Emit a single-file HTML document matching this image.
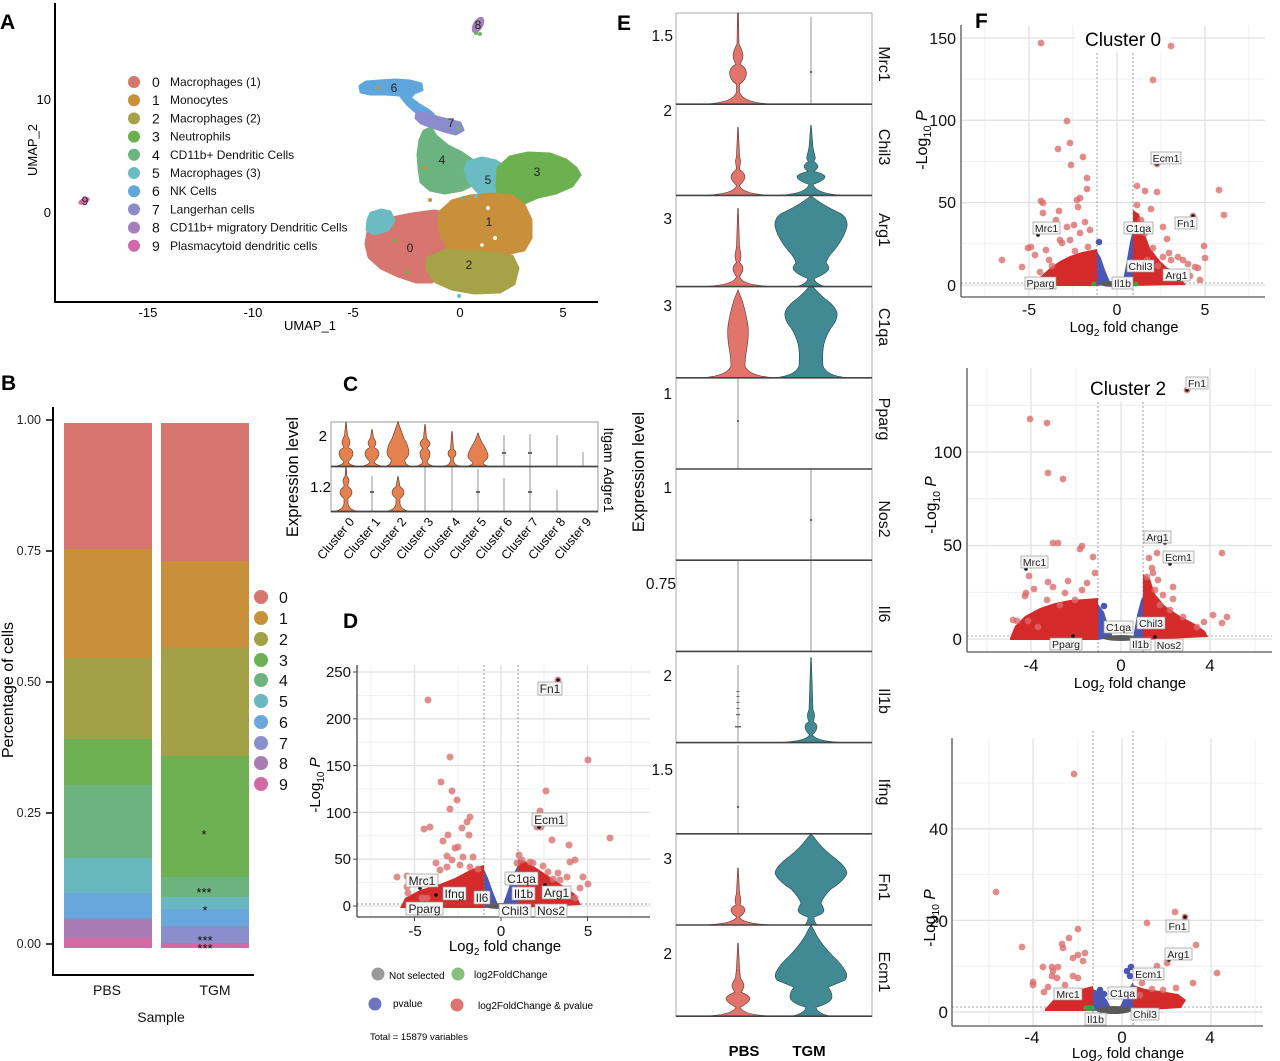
<!DOCTYPE html>
<html><head><meta charset="utf-8">
<style>
html,body{margin:0;padding:0;background:#fff;}
svg{display:block;font-family:"Liberation Sans",Arial,sans-serif;}
</style></head><body>
<svg width="1280" height="1061" viewBox="0 0 1280 1061" xmlns="http://www.w3.org/2000/svg">
<rect width="1280" height="1061" fill="#fff"/>

<!-- ================= PANEL A ================= -->
<text x="0" y="29" font-size="21" font-weight="bold">A</text>
<g stroke-linejoin="round" stroke-width="3">
<polygon points="360,86 366,82 380,81 395,80 410,81 421,84 422,90 414,93 410,98 418,104 428,110 433,114 426,116 416,112 407,104 400,95 385,94 370,94 361,92" fill="#5fa6dd" stroke="#5fa6dd"/>
<polygon points="417,113 428,114 440,118 452,121 460,123 463,130 456,134 444,131 432,127 421,123 416,118" fill="#8c8bcb" stroke="#8c8bcb"/>
<polygon points="420,140 424,131 431,128 436,136 448,146 462,153 472,160 478,170 474,184 462,190 445,193 430,190 421,182 419,168 418,155" fill="#6cb47f" stroke="#6cb47f"/>
<polygon points="468,162 482,158 496,161 506,168 507,180 500,192 494,200 484,197 476,190 468,180 465,170" fill="#6abcc2" stroke="#6abcc2"/>
<polygon points="498,168 510,157 528,153 550,154 566,160 576,168 580,175 572,186 556,193 538,197 522,204 506,210 499,200 497,185" fill="#6cb04f" stroke="#6cb04f"/>
<polygon points="368,232 374,222 392,218 412,214 434,211 446,213 449,230 447,250 442,266 432,282 416,282 398,276 381,268 369,257 366,244" fill="#d7766e" stroke="#d7766e"/>
<polygon points="440,212 452,201 470,196 492,194 512,196 524,205 531,220 531,238 524,250 505,254 485,254 465,255 450,250 442,238 439,225" fill="#c8903a" stroke="#c8903a"/>
<polygon points="428,258 446,250 466,252 490,253 512,256 518,268 514,284 500,292 474,293 452,289 436,282 427,270" fill="#a6a247" stroke="#a6a247"/>
<polygon points="368,220 371,213 381,210 390,212 394,220 388,230 374,234 367,230" fill="#6abcc2" stroke="#6abcc2"/>
</g>
<g>
<circle cx="488" cy="208" r="2" fill="#fff"/><circle cx="495" cy="238" r="2" fill="#fff"/><circle cx="482" cy="245" r="1.8" fill="#fff"/>
<circle cx="476" cy="196" r="2" fill="#6abcc2"/><circle cx="463" cy="198" r="2" fill="#6cb47f"/><circle cx="430" cy="200" r="2" fill="#c8903a"/>
<circle cx="425" cy="168" r="2" fill="#c8903a"/><circle cx="395" cy="240" r="2" fill="#6cb04f"/><circle cx="407" cy="272" r="2" fill="#6cb04f"/>
<circle cx="459" cy="296" r="2" fill="#6abcc2"/><circle cx="378" cy="88" r="2" fill="#a6a247"/><circle cx="458" cy="128" r="2" fill="#6cb47f"/>
</g>
<ellipse cx="478" cy="25" rx="5" ry="9" transform="rotate(30 478 25)" fill="#a67fbd"/>
<circle cx="476" cy="33" r="2" fill="#6cb04f"/><circle cx="480" cy="34" r="2" fill="#6cb47f"/>
<ellipse cx="84" cy="201" rx="6" ry="3" transform="rotate(-25 84 201)" fill="#d368a9"/>
<g font-size="12" fill="#222" text-anchor="middle">
<text x="478" y="29">8</text><text x="85" y="205">9</text><text x="394" y="92">6</text><text x="451" y="127">7</text>
<text x="442" y="164">4</text><text x="488" y="184">5</text><text x="537" y="176">3</text><text x="489" y="226">1</text>
<text x="410" y="252">0</text><text x="469" y="269">2</text>
</g>
<line x1="55" y1="3" x2="55" y2="303" stroke="#000" stroke-width="2"/>
<line x1="54" y1="302" x2="598" y2="302" stroke="#000" stroke-width="2"/>
<g font-size="13" text-anchor="end"><text x="51" y="104">10</text><text x="51" y="217">0</text></g>
<g font-size="13" text-anchor="middle">
<text x="148" y="317">-15</text><text x="253" y="317">-10</text><text x="353" y="317">-5</text><text x="460" y="317">0</text><text x="563" y="317">5</text>
<text x="310" y="330">UMAP_1</text>
<text transform="translate(37,150) rotate(-90)">UMAP_2</text>
</g>
<g>
<circle cx="134" cy="82" r="6" fill="#d7766e"/><circle cx="134" cy="100.2" r="6" fill="#c8903a"/>
<circle cx="134" cy="118.4" r="6" fill="#a6a247"/><circle cx="134" cy="136.6" r="6" fill="#6cb04f"/>
<circle cx="134" cy="154.8" r="6" fill="#6cb47f"/><circle cx="134" cy="173" r="6" fill="#6abcc2"/>
<circle cx="134" cy="191.2" r="6" fill="#5fa6dd"/><circle cx="134" cy="209.4" r="6" fill="#8c8bcb"/>
<circle cx="134" cy="227.6" r="6" fill="#a67fbd"/><circle cx="134" cy="245.8" r="6" fill="#d368a9"/>
</g>
<g font-size="14" fill="#111">
<text x="152" y="87">0</text><text x="152" y="105.2">1</text><text x="152" y="123.4">2</text><text x="152" y="141.6">3</text><text x="152" y="159.8">4</text>
<text x="152" y="178">5</text><text x="152" y="196.2">6</text><text x="152" y="214.4">7</text><text x="152" y="232.6">8</text><text x="152" y="250.8">9</text>
</g>
<g font-size="12" fill="#111">
<text x="170" y="86">Macrophages (1)</text><text x="170" y="104.2">Monocytes</text><text x="170" y="122.4">Macrophages (2)</text>
<text x="170" y="140.6">Neutrophils</text><text x="170" y="158.8">CD11b+ Dendritic Cells</text><text x="170" y="177">Macrophages (3)</text>
<text x="170" y="195.2">NK Cells</text><text x="170" y="213.4">Langerhan cells</text><text x="170" y="231.6">CD11b+ migratory Dendritic Cells</text>
<text x="170" y="249.8">Plasmacytoid dendritic cells</text>
</g>

<!-- ================= PANEL B ================= -->
<text x="1" y="390" font-size="21" font-weight="bold">B</text>
<g>
<rect x="64" y="423" width="88" height="126" fill="#d7766e"/>
<rect x="64" y="549" width="88" height="109" fill="#c8903a"/>
<rect x="64" y="658" width="88" height="81" fill="#a3a146"/>
<rect x="64" y="739" width="88" height="46" fill="#6db153"/>
<rect x="64" y="785" width="88" height="73" fill="#6db37f"/>
<rect x="64" y="858" width="88" height="35" fill="#6ab8bf"/>
<rect x="64" y="893" width="88" height="25" fill="#69a8dc"/>
<rect x="64" y="918" width="88" height="2" fill="#8a8fcb"/>
<rect x="64" y="920" width="88" height="18" fill="#a97bb4"/>
<rect x="64" y="938" width="88" height="10" fill="#d36aa4"/>

<rect x="161" y="423" width="88" height="138" fill="#d7766e"/>
<rect x="161" y="561" width="88" height="87" fill="#c8903a"/>
<rect x="161" y="648" width="88" height="108" fill="#a3a146"/>
<rect x="161" y="756" width="88" height="121" fill="#6db153"/>
<rect x="161" y="877" width="88" height="20" fill="#6db37f"/>
<rect x="161" y="897" width="88" height="12" fill="#6ab8bf"/>
<rect x="161" y="909" width="88" height="17" fill="#69a8dc"/>
<rect x="161" y="926" width="88" height="17" fill="#8a8fcb"/>
<rect x="161" y="943" width="88" height="1" fill="#a97bb4"/>
<rect x="161" y="944" width="88" height="4" fill="#d36aa4"/>
</g>
<g font-size="13" text-anchor="middle" fill="#111">
<text x="204" y="839">*</text><text x="204" y="897">***</text><text x="205" y="915">*</text><text x="205" y="945">***</text><text x="205" y="953">***</text>
</g>
<line x1="53" y1="407" x2="53" y2="976" stroke="#000" stroke-width="2"/>
<line x1="52" y1="975" x2="254" y2="975" stroke="#000" stroke-width="2"/>
<g stroke="#000" stroke-width="1.5"><line x1="46" y1="420" x2="52" y2="420"/><line x1="46" y1="551" x2="52" y2="551"/><line x1="46" y1="682" x2="52" y2="682"/><line x1="46" y1="813" x2="52" y2="813"/><line x1="46" y1="944" x2="52" y2="944"/></g>
<g font-size="12.5" text-anchor="end" fill="#222">
<text x="41" y="424">1.00</text><text x="41" y="555">0.75</text><text x="41" y="686">0.50</text><text x="41" y="817">0.25</text><text x="41" y="948">0.00</text>
</g>
<g font-size="14" text-anchor="middle" fill="#111">
<text x="107" y="995">PBS</text><text x="215" y="995">TGM</text><text x="161" y="1022">Sample</text>
</g>
<text transform="translate(13,690) rotate(-90)" font-size="16" text-anchor="middle">Percentage of cells</text>
<g>
<circle cx="261" cy="597" r="7" fill="#d7766e"/><circle cx="261" cy="618" r="7" fill="#c8903a"/>
<circle cx="261" cy="639" r="7" fill="#a3a146"/><circle cx="261" cy="660" r="7" fill="#6db153"/>
<circle cx="261" cy="680" r="7" fill="#6db37f"/><circle cx="261" cy="701" r="7" fill="#6ab8bf"/>
<circle cx="261" cy="722" r="7" fill="#69a8dc"/><circle cx="261" cy="743" r="7" fill="#8a8fcb"/>
<circle cx="261" cy="763" r="7" fill="#a97bb4"/><circle cx="261" cy="784" r="7" fill="#d36aa4"/>
</g>
<g font-size="16" fill="#111">
<text x="279" y="603">0</text><text x="279" y="624">1</text><text x="279" y="645">2</text><text x="279" y="666">3</text><text x="279" y="686">4</text>
<text x="279" y="707">5</text><text x="279" y="728">6</text><text x="279" y="749">7</text><text x="279" y="769">8</text><text x="279" y="790">9</text>
</g>

<!-- ================= PANEL C ================= -->
<text x="343" y="391" font-size="21" font-weight="bold">C</text>
<rect x="331" y="422" width="267" height="90" fill="none" stroke="#999" stroke-width="1"/>
<g fill="#e5814f" stroke="#5a3322" stroke-width="0.6">
<path transform="translate(346,466.5)" d="M13,0 Q3,-1 2,-5 Q7,-9 7,-13 Q7,-17 2,-19 Q4,-22 4,-25 Q3,-28 1.5,-31 L0.3,-44 L-0.3,-44 L-1.5,-31 Q-3,-28 -4,-25 Q-4,-22 -2,-19 Q-7,-17 -7,-13 Q-7,-9 -2,-5 Q-3,-1 -13,0 Z"/>
<path transform="translate(372,466.5)" d="M13,0 Q3,-1 2,-5 Q7,-9 7,-13 Q7,-17 2,-19 Q4,-22 4,-24 Q3,-27 1.5,-29 L0.3,-37 L-0.3,-37 L-1.5,-29 Q-3,-27 -4,-24 Q-4,-22 -2,-19 Q-7,-17 -7,-13 Q-7,-9 -2,-5 Q-3,-1 -13,0 Z"/>
<path transform="translate(398,466.5)" d="M13,0 Q6,-2 7,-7 Q11,-10 11,-15 Q10,-22 6,-28 Q3,-36 0,-45 Q-3,-36 -6,-28 Q-10,-22 -11,-15 Q-11,-10 -7,-7 Q-6,-2 -13,0 Z"/>
<path transform="translate(425,466.5)" d="M11,0 Q3,-1 2,-5 Q5,-9 5,-13 Q5,-16 2,-18 Q5,-21 5,-23 Q4,-26 1.5,-28 L0.3,-42 L-0.3,-42 L-1.5,-28 Q-4,-26 -5,-23 Q-5,-21 -2,-18 Q-5,-16 -5,-13 Q-5,-9 -2,-5 Q-3,-1 -11,0 Z"/>
<path transform="translate(452,466.5)" d="M10,0 Q2,-1 1.5,-6 L1.5,-9 Q4,-10 4,-13 Q4,-16 1.5,-17 L0.3,-35 L-0.3,-35 L-1.5,-17 Q-4,-16 -4,-13 Q-4,-10 -1.5,-9 L-1.5,-6 Q-2,-1 -10,0 Z"/>
<path transform="translate(478,466.5)" d="M13,0 Q5,-1 5,-4 Q11,-8 10,-12 Q8,-18 4,-24 Q1,-30 0,-34 Q-1,-30 -4,-24 Q-8,-18 -10,-12 Q-11,-8 -5,-4 Q-5,-1 -13,0 Z"/>
<path transform="translate(346,511.5)" d="M13,0 Q3,-1 2,-8 L2,-13 Q6,-16 6,-19 Q6,-22 2,-25 L2,-27 Q3,-29 3,-31 Q3,-33 1,-35 L0.3,-44 L-0.3,-44 L-1,-35 Q-3,-33 -3,-31 Q-3,-29 -2,-27 L-2,-25 Q-6,-22 -6,-19 Q-6,-16 -2,-13 L-2,-8 Q-3,-1 -13,0 Z"/>
<path transform="translate(398,511.5)" d="M13,0 Q3,-1 2,-8 L2,-13 Q6,-16 6,-19 Q6,-22 2,-25 L0.3,-35 L-0.3,-35 L-2,-25 Q-6,-22 -6,-19 Q-6,-16 -2,-13 L-2,-8 Q-3,-1 -13,0 Z"/>
</g>
<g stroke="#888" stroke-width="0.9">
<line x1="504" y1="466" x2="504" y2="435"/><line x1="530" y1="466" x2="530" y2="434"/><line x1="557" y1="466" x2="557" y2="435"/><line x1="583" y1="466" x2="583" y2="452"/>
<line x1="372" y1="511" x2="372" y2="476"/><line x1="425" y1="511" x2="425" y2="467"/><line x1="452" y1="511" x2="452" y2="467"/><line x1="478" y1="511" x2="478" y2="469"/>
<line x1="504" y1="511" x2="504" y2="478"/><line x1="530" y1="511" x2="530" y2="467"/><line x1="557" y1="511" x2="557" y2="490"/>
</g>
<g fill="#666"><rect x="502" y="452" width="4" height="2"/><rect x="528" y="452" width="4" height="2"/><rect x="370" y="491" width="4" height="2"/><rect x="476" y="491" width="4" height="2"/><rect x="528" y="491" width="4" height="2"/></g>
<line x1="331" y1="466.5" x2="598" y2="466.5" stroke="#444" stroke-width="1.8"/>
<line x1="331" y1="511.5" x2="598" y2="511.5" stroke="#444" stroke-width="1.8"/>
<g font-size="15" text-anchor="end"><text x="327" y="441">2</text><text x="331" y="492">1.2</text></g>
<g font-size="14"><text transform="translate(604,445) rotate(90)" text-anchor="middle">Itgam</text><text transform="translate(604,490) rotate(90)" text-anchor="middle">Adgre1</text></g>
<text transform="translate(298,477) rotate(-90)" font-size="16.5" text-anchor="middle">Expression level</text>
<g font-size="12.5" text-anchor="end">
<text transform="translate(355,522) rotate(-50)">Cluster 0</text>
<text transform="translate(381,522) rotate(-50)">Cluster 1</text>
<text transform="translate(407,522) rotate(-50)">Cluster 2</text>
<text transform="translate(434,522) rotate(-50)">Cluster 3</text>
<text transform="translate(461,522) rotate(-50)">Cluster 4</text>
<text transform="translate(487,522) rotate(-50)">Cluster 5</text>
<text transform="translate(513,522) rotate(-50)">Cluster 6</text>
<text transform="translate(539,522) rotate(-50)">Cluster 7</text>
<text transform="translate(566,522) rotate(-50)">Cluster 8</text>
<text transform="translate(592,522) rotate(-50)">Cluster 9</text>
</g>

<!-- ================= PANEL D ================= -->
<text x="343" y="628" font-size="21" font-weight="bold">D</text>
<g stroke="#ececec" stroke-width="0.8">
<line x1="357" y1="882.6" x2="650" y2="882.6"/><line x1="357" y1="835.8" x2="650" y2="835.8"/><line x1="357" y1="789" x2="650" y2="789"/><line x1="357" y1="742.2" x2="650" y2="742.2"/><line x1="357" y1="695.4" x2="650" y2="695.4"/>
<line x1="371" y1="665" x2="371" y2="917"/><line x1="458" y1="665" x2="458" y2="917"/><line x1="544" y1="665" x2="544" y2="917"/><line x1="631" y1="665" x2="631" y2="917"/>
</g>
<g stroke="#e2e2e2" stroke-width="1.3">
<line x1="357" y1="906" x2="650" y2="906"/><line x1="357" y1="859.2" x2="650" y2="859.2"/><line x1="357" y1="812.4" x2="650" y2="812.4"/><line x1="357" y1="765.6" x2="650" y2="765.6"/><line x1="357" y1="718.8" x2="650" y2="718.8"/><line x1="357" y1="672" x2="650" y2="672"/>
<line x1="414.5" y1="665" x2="414.5" y2="917"/><line x1="501" y1="665" x2="501" y2="917"/><line x1="587.5" y1="665" x2="587.5" y2="917"/>
</g>
<g stroke="none">
<polygon points="400,908 405,898 420,890 440,884 455,878 470,870 480,866 484,865 484,908" fill="#d42a2a"/>
<polygon points="518,859 525,861 535,867 550,877 565,887 575,894 581,905 518,908" fill="#d42a2a"/>
<polygon points="484,869 488,878 493,892 499,907 484,908" fill="#4c56b3"/>
<polygon points="502,907 508,890 513,875 518,865 518,908" fill="#4c56b3"/>
<ellipse cx="501" cy="906" rx="17" ry="3" fill="#5a5a5a"/>
</g>
<g fill="#d9706e" fill-opacity="0.8">
<circle cx="428" cy="700" r="3.5"/><circle cx="450" cy="757" r="3.5"/><circle cx="441" cy="782" r="3.5"/><circle cx="452" cy="791" r="3.5"/><circle cx="457" cy="800" r="3.5"/><circle cx="450" cy="809" r="3.5"/><circle cx="470" cy="817" r="3.5"/><circle cx="467" cy="822" r="3.5"/><circle cx="462" cy="828" r="3.5"/><circle cx="424" cy="829" r="3.5"/><circle cx="430" cy="827" r="3.5"/><circle cx="448" cy="835" r="3.5"/><circle cx="443" cy="841" r="3.5"/><circle cx="469" cy="835" r="3.5"/><circle cx="455" cy="848" r="3.5"/><circle cx="458" cy="847" r="3.5"/><circle cx="447" cy="856" r="3.5"/><circle cx="463" cy="857" r="3.5"/><circle cx="473" cy="857" r="3.5"/><circle cx="436" cy="863" r="3.5"/><circle cx="397" cy="877" r="3.5"/><circle cx="407" cy="876" r="3.5"/><circle cx="407" cy="887" r="3.5"/><circle cx="408" cy="893" r="3.5"/><circle cx="422" cy="898" r="3.5"/><circle cx="427" cy="898" r="3.5"/><circle cx="478" cy="869" r="3.5"/><circle cx="470" cy="867" r="3.5"/><circle cx="447" cy="867" r="3.5"/><circle cx="452" cy="860" r="3.5"/><circle cx="440" cy="870" r="3.5"/><circle cx="460" cy="865" r="3.5"/>
<circle cx="588" cy="760" r="3.5"/><circle cx="546" cy="791" r="3.5"/><circle cx="540" cy="811" r="3.5"/><circle cx="552" cy="840" r="3.5"/><circle cx="610" cy="838" r="3.5"/><circle cx="569" cy="845" r="3.5"/><circle cx="570" cy="862" r="3.5"/><circle cx="575" cy="860" r="3.5"/><circle cx="519" cy="855" r="3.5"/><circle cx="530" cy="862" r="3.5"/><circle cx="533" cy="863" r="3.5"/><circle cx="543" cy="866" r="3.5"/><circle cx="583" cy="877" r="3.5"/><circle cx="588" cy="884" r="3.5"/><circle cx="580" cy="888" r="3.5"/><circle cx="575" cy="898" r="3.5"/><circle cx="567" cy="877" r="3.5"/><circle cx="553" cy="879" r="3.5"/><circle cx="560" cy="880" r="3.5"/><circle cx="517" cy="863" r="3.5"/><circle cx="522" cy="860" r="3.5"/><circle cx="558" cy="873" r="3.5"/><circle cx="548" cy="872" r="3.5"/><circle cx="558" cy="680" r="3.5"/><circle cx="537" cy="827" r="3.5"/><circle cx="541" cy="827" r="3.5"/>
</g>
<g fill="#111"><circle cx="558" cy="680" r="1.8"/><circle cx="539" cy="827" r="1.8"/><circle cx="420" cy="888" r="1.8"/><circle cx="436" cy="895" r="1.8"/><circle cx="545" cy="885" r="1.8"/><circle cx="549" cy="905" r="1.8"/></g>
<g stroke="#777" stroke-width="0.8" stroke-dasharray="2,2"><line x1="484" y1="665" x2="484" y2="917"/><line x1="518" y1="665" x2="518" y2="917"/><line x1="357" y1="904" x2="650" y2="904"/></g>
<line x1="357" y1="665" x2="357" y2="917" stroke="#444" stroke-width="1.3"/>
<line x1="357" y1="917" x2="650" y2="917" stroke="#444" stroke-width="1.3"/>
<g stroke="#444" stroke-width="1"><line x1="353" y1="906" x2="357" y2="906"/><line x1="353" y1="859.2" x2="357" y2="859.2"/><line x1="353" y1="812.4" x2="357" y2="812.4"/><line x1="353" y1="765.6" x2="357" y2="765.6"/><line x1="353" y1="718.8" x2="357" y2="718.8"/><line x1="353" y1="672" x2="357" y2="672"/><line x1="414.5" y1="917" x2="414.5" y2="921"/><line x1="501" y1="917" x2="501" y2="921"/><line x1="587.5" y1="917" x2="587.5" y2="921"/></g>
<g font-size="15" text-anchor="end" fill="#111"><text x="351" y="677">250</text><text x="351" y="724">200</text><text x="351" y="771">150</text><text x="351" y="818">100</text><text x="351" y="864">50</text><text x="351" y="911">0</text></g>
<g font-size="15" text-anchor="middle" fill="#111"><text x="415" y="936">-5</text><text x="501" y="936">0</text><text x="588" y="936">5</text></g>
<text x="505" y="951" font-size="15" text-anchor="middle">Log<tspan font-size="10" dy="4">2</tspan><tspan dy="-4"> fold change</tspan></text>
<text transform="translate(320,785) rotate(-90)" font-size="15" text-anchor="middle">-Log<tspan font-size="10" dy="4">10</tspan><tspan dy="-4" font-style="italic"> P</tspan></text>
<g font-size="12" text-anchor="middle" fill="#222">
<rect x="538" y="682" width="24" height="13" fill="#f6f6f6" stroke="#999" stroke-width="0.7"/><text x="550" y="693">Fn1</text>
<rect x="532" y="813" width="35" height="13" fill="#f6f6f6" stroke="#999" stroke-width="0.7"/><text x="549.5" y="824">Ecm1</text>
<rect x="406" y="874" width="32" height="13" fill="#f6f6f6" stroke="#999" stroke-width="0.7"/><text x="422" y="885">Mrc1</text>
<rect x="443" y="887" width="23" height="13" fill="#f6f6f6" stroke="#999" stroke-width="0.7"/><text x="454.5" y="898">Ifng</text>
<rect x="474" y="891" width="16" height="13" fill="#f6f6f6" stroke="#999" stroke-width="0.7"/><text x="482" y="902">Il6</text>
<rect x="505" y="872" width="33" height="13" fill="#f6f6f6" stroke="#999" stroke-width="0.7"/><text x="521.5" y="883">C1qa</text>
<rect x="512" y="887" width="23" height="13" fill="#f6f6f6" stroke="#999" stroke-width="0.7"/><text x="523.5" y="898">Il1b</text>
<rect x="542" y="886" width="29" height="13" fill="#f6f6f6" stroke="#999" stroke-width="0.7"/><text x="556.5" y="897">Arg1</text>
<rect x="406" y="902" width="37" height="13" fill="#f6f6f6" stroke="#999" stroke-width="0.7"/><text x="424.5" y="913">Pparg</text>
<rect x="499" y="904" width="32" height="13" fill="#f6f6f6" stroke="#999" stroke-width="0.7"/><text x="515" y="915">Chil3</text>
<rect x="535" y="904" width="32" height="13" fill="#f6f6f6" stroke="#999" stroke-width="0.7"/><text x="551" y="915">Nos2</text>
</g>
<circle cx="378" cy="974" r="6.5" fill="#9a9a9a"/><text x="389" y="979" font-size="10">Not selected</text>
<circle cx="458" cy="974" r="6.5" fill="#86c07a"/><text x="474" y="978" font-size="10">log2FoldChange</text>
<circle cx="375" cy="1004" r="6.5" fill="#6f74c2"/><text x="393" y="1007" font-size="10">pvalue</text>
<circle cx="457" cy="1005" r="6.5" fill="#dd7673"/><text x="478" y="1009" font-size="10">log2FoldChange &amp; pvalue</text>
<text x="370" y="1040" font-size="9.5">Total = 15879 variables</text>

<!-- ================= PANEL E ================= -->
<text x="617" y="30" font-size="21" font-weight="bold">E</text>
<line x1="676" y1="13" x2="676" y2="1017" stroke="#aaa" stroke-width="1"/>
<line x1="872" y1="13" x2="872" y2="1017" stroke="#aaa" stroke-width="1"/>
<line x1="676" y1="13" x2="872" y2="13" stroke="#aaa" stroke-width="1"/>
<g stroke="#888" stroke-width="0.9">
<line x1="811" y1="17" x2="811" y2="104"/>
<line x1="738" y1="378" x2="738" y2="469"/>
<line x1="811" y1="469" x2="811" y2="560"/>
<line x1="738" y1="560" x2="738" y2="651"/><line x1="811" y1="560" x2="811" y2="651"/>
<line x1="738" y1="665" x2="738" y2="742"/>
<line x1="738" y1="745" x2="738" y2="833"/>
</g>
<g fill="#666"><rect x="810" y="71" width="2" height="2"/><rect x="737" y="420" width="2" height="2"/><rect x="810" y="519" width="2" height="2"/><rect x="737" y="806" width="2" height="2"/>
<rect x="735" y="726" width="6" height="1.5"/><rect x="736" y="714" width="4" height="1.2"/><rect x="736.5" y="708" width="3" height="1"/><rect x="736.5" y="702" width="3" height="1"/><rect x="736.5" y="696" width="3" height="1"/><rect x="736.5" y="691" width="3" height="1"/></g>
<g fill="#e1756b" stroke="#5a3030" stroke-width="0.6">
<path transform="translate(738,104.2)" d="M36,0 Q5,-1 1.5,-12 L1.5,-20 Q8,-24 8.5,-31 Q8,-37 2,-40 Q5,-45 5,-49 Q4,-55 1,-60 L0.5,-91 L-0.5,-91 L-1,-60 Q-4,-55 -5,-49 Q-5,-45 -2,-40 Q-8,-37 -8.5,-31 Q-8,-24 -1.5,-20 L-1.5,-12 Q-5,-1 -36,0 Z"/>
<path transform="translate(738,195.4)" d="M36,0 Q4,-1 1.5,-10 Q7,-15 7,-19 Q6,-23 1.5,-26 L2.5,-34 L1.5,-40 L0.3,-68 L-0.3,-68 L-1.5,-40 L-2.5,-34 L-1.5,-26 Q-6,-23 -7,-19 Q-7,-15 -1.5,-10 Q-4,-1 -36,0 Z"/>
<path transform="translate(738,286.6)" d="M36,0 Q4,-1 1.5,-10 Q5,-15 5,-18 Q5,-21 1.5,-24 Q3,-28 3,-31 L1.5,-40 L0.3,-78 L-0.3,-78 L-1.5,-40 L-3,-31 Q-3,-28 -1.5,-24 Q-5,-21 -5,-18 Q-5,-15 -1.5,-10 Q-4,-1 -36,0 Z"/>
<path transform="translate(738,377.8)" d="M36,0 Q10,-2 7,-12 Q7,-20 9,-30 Q11,-42 10,-52 Q8,-65 4,-78 L0,-88 L-4,-78 Q-8,-65 -10,-52 Q-11,-42 -9,-30 Q-7,-20 -7,-12 Q-10,-2 -36,0 Z"/>
<path transform="translate(738,925)" d="M36,0 Q4,-1 1.5,-8 Q7,-12 7,-15 Q7,-18 2,-20 Q3,-23 3,-25 L1.5,-32 L0.3,-57 L-0.3,-57 L-1.5,-32 L-3,-25 Q-3,-23 -2,-20 Q-7,-18 -7,-15 Q-7,-12 -1.5,-8 Q-4,-1 -36,0 Z"/>
<path transform="translate(738,1016.2)" d="M36,0 Q5,-1 2,-9 Q12,-14 12,-18 Q11,-21 3,-24 Q6,-28 6,-31 Q5,-35 2.5,-38 L1.5,-48 L0.3,-73 L-0.3,-73 L-1.5,-48 L-2.5,-38 Q-5,-35 -6,-31 Q-6,-28 -3,-24 Q-11,-21 -12,-18 Q-12,-14 -2,-9 Q-5,-1 -36,0 Z"/>
</g>
<g fill="#428a93" stroke="#21474c" stroke-width="0.6">
<path transform="translate(811,195.4)" d="M36,0 Q5,-1 2,-11 Q14,-15 14,-19 Q12,-22 3,-24 Q7,-27 7,-29 Q6,-32 2.5,-34 Q5,-36 4,-39 L2,-48 L0.3,-70 L-0.3,-70 L-2,-48 L-4,-39 Q-5,-36 -2.5,-34 Q-6,-32 -7,-29 Q-7,-27 -3,-24 Q-12,-22 -14,-19 Q-14,-15 -2,-11 Q-5,-1 -36,0 Z"/>
<path transform="translate(811,286.6)" d="M15,0 Q5,-2 3,-8 Q18,-14 18,-19 Q17,-22 15,-24 Q17,-30 22,-35 Q33,-48 36,-60 Q37,-68 30,-73 Q15,-80 8,-85 Q2,-89 0,-91 Q-2,-89 -8,-85 Q-15,-80 -30,-73 Q-37,-68 -36,-60 Q-33,-48 -22,-35 Q-17,-30 -15,-24 Q-17,-22 -18,-19 Q-18,-14 -3,-8 Q-5,-2 -15,0 Z"/>
<path transform="translate(811,377.8)" d="M37,0 Q15,-2 12,-12 Q11,-25 13,-34 Q15,-42 20,-50 Q27,-58 26,-65 Q24,-72 14,-79 Q6,-86 2,-91 L-2,-91 Q-6,-86 -14,-79 Q-24,-72 -26,-65 Q-27,-58 -20,-50 Q-15,-42 -13,-34 Q-11,-25 -12,-12 Q-15,-2 -37,0 Z"/>
<path transform="translate(811,742.6)" d="M36,0 Q4,-1 1.5,-8 Q6,-12 6,-16 Q6,-19 2,-21 Q4,-25 3.5,-28 Q3,-31 2,-33 L0.3,-85 L-0.3,-85 L-2,-33 Q-3,-31 -3.5,-28 Q-4,-25 -2,-21 Q-6,-19 -6,-16 Q-6,-12 -1.5,-8 Q-4,-1 -36,0 Z"/>
<path transform="translate(811,925)" d="M6,0 Q3,-3 3,-8 Q13,-11 13,-15 Q12,-19 10,-22 Q12,-28 20,-36 Q34,-45 36,-52 Q35,-58 25,-66 Q12,-76 6,-84 Q2,-89 0,-91 Q-2,-89 -6,-84 Q-12,-76 -25,-66 Q-35,-58 -36,-52 Q-34,-45 -20,-36 Q-12,-28 -10,-22 Q-12,-19 -13,-15 Q-13,-11 -3,-8 Q-3,-3 -6,0 Z"/>
<path transform="translate(811,1016.2)" d="M19,0 Q6,-3 5,-9 Q20,-13 21,-19 Q21,-25 17,-29 Q24,-32 34,-36 Q37,-40 35,-44 Q31,-52 22,-60 Q12,-70 6,-80 Q2,-88 0,-91 Q-2,-88 -6,-80 Q-12,-70 -22,-60 Q-31,-52 -35,-44 Q-37,-40 -34,-36 Q-24,-32 -17,-29 Q-21,-25 -21,-19 Q-20,-13 -5,-9 Q-6,-3 -19,0 Z"/>
</g>
<g stroke="#444" stroke-width="1.6">
<line x1="676" y1="104.2" x2="872" y2="104.2"/><line x1="676" y1="195.4" x2="872" y2="195.4"/><line x1="676" y1="286.6" x2="872" y2="286.6"/>
<line x1="676" y1="377.8" x2="872" y2="377.8"/><line x1="676" y1="469" x2="872" y2="469"/><line x1="676" y1="560.2" x2="872" y2="560.2"/>
<line x1="676" y1="651.4" x2="872" y2="651.4"/><line x1="676" y1="742.6" x2="872" y2="742.6"/><line x1="676" y1="833.8" x2="872" y2="833.8"/>
<line x1="676" y1="925" x2="872" y2="925"/><line x1="676" y1="1016.2" x2="872" y2="1016.2"/>
</g>
<g font-size="15.5" text-anchor="end" fill="#111">
<text x="673" y="41">1.5</text><text x="672" y="116">2</text><text x="672" y="224">3</text><text x="672" y="311">3</text><text x="672" y="399">1</text><text x="672" y="493">1</text>
<text x="676" y="589">0.75</text><text x="672" y="681">2</text><text x="673" y="775">1.5</text><text x="672" y="864">3</text><text x="672" y="959">2</text>
</g>
<g font-size="16" text-anchor="middle" fill="#111">
<text transform="translate(879,64) rotate(90)">Mrc1</text>
<text transform="translate(879,147) rotate(90)">Chil3</text>
<text transform="translate(879,230) rotate(90)">Arg1</text>
<text transform="translate(879,327) rotate(90)">C1qa</text>
<text transform="translate(879,419) rotate(90)">Pparg</text>
<text transform="translate(879,519) rotate(90)">Nos2</text>
<text transform="translate(879,614) rotate(90)">Il6</text>
<text transform="translate(879,701) rotate(90)">Il1b</text>
<text transform="translate(879,792) rotate(90)">Ifng</text>
<text transform="translate(879,887) rotate(90)">Fn1</text>
<text transform="translate(879,972) rotate(90)">Ecm1</text>
</g>
<text transform="translate(644,472) rotate(-90)" font-size="16.5" text-anchor="middle">Expression level</text>
<g font-size="15" font-weight="bold" text-anchor="middle"><text x="744" y="1056">PBS</text><text x="809" y="1056">TGM</text></g>

<!-- ================= PANEL F1 ================= -->
<text x="975" y="28" font-size="21" font-weight="bold">F</text>
<g stroke="#ececec" stroke-width="0.8">
<line x1="961" y1="243.8" x2="1265" y2="243.8"/><line x1="961" y1="161.5" x2="1265" y2="161.5"/><line x1="961" y1="79.1" x2="1265" y2="79.1"/>
<line x1="985" y1="25" x2="985" y2="297"/><line x1="1073" y1="25" x2="1073" y2="297"/><line x1="1161" y1="25" x2="1161" y2="297"/><line x1="1249" y1="25" x2="1249" y2="297"/>
</g>
<g stroke="#e2e2e2" stroke-width="1.3">
<line x1="961" y1="285" x2="1265" y2="285"/><line x1="961" y1="202.6" x2="1265" y2="202.6"/><line x1="961" y1="120.3" x2="1265" y2="120.3"/><line x1="961" y1="38" x2="1265" y2="38"/>
<line x1="1029" y1="25" x2="1029" y2="297"/><line x1="1117" y1="25" x2="1117" y2="297"/><line x1="1205" y1="25" x2="1205" y2="297"/>
</g>
<rect x="1075" y="25" width="96" height="27" fill="#fff"/>
<g stroke="#888" stroke-width="0.8" stroke-dasharray="2,2"><line x1="1097" y1="53" x2="1097" y2="297"/><line x1="1133" y1="53" x2="1133" y2="297"/><line x1="961" y1="283" x2="1265" y2="283"/></g>
<polygon points="1032,285 1040,277 1050,268 1060,261 1070,256 1082,252 1092,250 1097,249 1097,286 1032,286" fill="#d42a2a"/>
<polygon points="1133,210 1139,214 1144,232 1150,248 1160,261 1172,272 1182,280 1186,285 1133,286" fill="#d42a2a"/>
<polygon points="1097,251 1101,258 1105,270 1111,284 1097,286" fill="#4c56b3"/>
<polygon points="1122,285 1126,265 1130,242 1133,230 1133,286" fill="#4c56b3"/>
<ellipse cx="1115" cy="284" rx="16" ry="3" fill="#5a5a5a"/>
<circle cx="1094" cy="284" r="2.5" fill="#3da144"/><circle cx="1136" cy="284" r="2.5" fill="#3da144"/>
<circle cx="1099" cy="242" r="3.3" fill="#4c56b3"/>
<g fill="#d86a6a" fill-opacity="0.78">
<circle cx="1041" cy="43" r="3.4"/><circle cx="1171" cy="46" r="3.4"/><circle cx="1153" cy="80" r="3.4"/><circle cx="1067" cy="121" r="3.4"/><circle cx="1058" cy="149" r="3.4"/><circle cx="1070" cy="143" r="3.4"/><circle cx="1083" cy="157" r="3.4"/><circle cx="1071" cy="165" r="3.4"/><circle cx="1087" cy="178" r="3.4"/><circle cx="1087" cy="189" r="3.4"/><circle cx="1041" cy="201" r="3.4"/><circle cx="1043" cy="203" r="3.4"/><circle cx="1043" cy="213" r="3.4"/><circle cx="1077" cy="200" r="3.4"/><circle cx="1080" cy="198" r="3.4"/><circle cx="1059" cy="211" r="3.4"/><circle cx="1078" cy="207" r="3.4"/><circle cx="1137" cy="186" r="3.4"/><circle cx="1145" cy="191" r="3.4"/><circle cx="1157" cy="192" r="3.4"/><circle cx="1137" cy="205" r="3.4"/><circle cx="1151" cy="209" r="3.4"/><circle cx="1219" cy="190" r="3.4"/><circle cx="1224" cy="215" r="3.4"/><circle cx="1002" cy="260" r="3.4"/><circle cx="1022" cy="267" r="3.4"/><circle cx="1028" cy="248" r="3.4"/><circle cx="1031" cy="247" r="3.4"/><circle cx="1035" cy="255" r="3.4"/><circle cx="1046" cy="250" r="3.4"/><circle cx="1049" cy="260" r="3.4"/><circle cx="1053" cy="230" r="3.4"/><circle cx="1060" cy="240" r="3.4"/><circle cx="1062" cy="243" r="3.4"/><circle cx="1070" cy="240" r="3.4"/><circle cx="1067" cy="227" r="3.4"/><circle cx="1080" cy="233" r="3.4"/><circle cx="1090" cy="230" r="3.4"/><circle cx="1163" cy="227" r="3.4"/><circle cx="1167" cy="239" r="3.4"/><circle cx="1163" cy="257" r="3.4"/><circle cx="1171" cy="260" r="3.4"/><circle cx="1169" cy="253" r="3.4"/><circle cx="1178" cy="257" r="3.4"/><circle cx="1183" cy="260" r="3.4"/><circle cx="1188" cy="264" r="3.4"/><circle cx="1198" cy="268" r="3.4"/><circle cx="1204" cy="246" r="3.4"/><circle cx="1205" cy="258" r="3.4"/><circle cx="1195" cy="267" r="3.4"/><circle cx="1145" cy="233" r="3.4"/><circle cx="1153" cy="248" r="3.4"/><circle cx="1147" cy="260" r="3.4"/><circle cx="1085" cy="222" r="3.4"/><circle cx="1074" cy="225" r="3.4"/><circle cx="1056" cy="220" r="3.4"/><circle cx="1157" cy="164" r="3.4"/><circle cx="1193" cy="216" r="3.4"/>
<circle cx="1040" cy="272" r="3.4"/><circle cx="1052" cy="266" r="3.4"/><circle cx="1075" cy="251" r="3.4"/><circle cx="1088" cy="247" r="3.4"/><circle cx="1141" cy="220" r="3.4"/><circle cx="1158" cy="266" r="3.4"/><circle cx="1190" cy="276" r="3.4"/><circle cx="1200" cy="280" r="3.4"/>
</g>
<g fill="#111"><circle cx="1157" cy="164" r="1.8"/><circle cx="1193" cy="216" r="1.8"/><circle cx="1038" cy="235" r="1.8"/><circle cx="1168" cy="270" r="1.8"/><circle cx="1050" cy="283" r="1.8"/></g>
<line x1="961" y1="25" x2="961" y2="297" stroke="#555" stroke-width="1.3"/>
<line x1="961" y1="297" x2="1265" y2="297" stroke="#555" stroke-width="1.3"/>
<g font-size="16" text-anchor="end" fill="#111"><text x="956" y="44">150</text><text x="956" y="126">100</text><text x="956" y="208">50</text><text x="956" y="291">0</text></g>
<g font-size="16" text-anchor="middle" fill="#111"><text x="1029" y="315">-5</text><text x="1117" y="315">0</text><text x="1205" y="315">5</text></g>
<text x="1124" y="332" font-size="14.5" text-anchor="middle">Log<tspan font-size="10" dy="4">2</tspan><tspan dy="-4"> fold change</tspan></text>
<text transform="translate(927,140) rotate(-90)" font-size="16" text-anchor="middle">-Log<tspan font-size="11" dy="4">10</tspan><tspan dy="-4" font-style="italic"> P</tspan></text>
<text x="1123" y="46" font-size="19" text-anchor="middle">Cluster 0</text>
<g font-size="10.5" text-anchor="middle" fill="#222">
<rect x="1151" y="152" width="30" height="12" fill="#f6f6f6" stroke="#999" stroke-width="0.7"/><text x="1166" y="162">Ecm1</text>
<rect x="1175" y="217" width="22" height="12" fill="#f6f6f6" stroke="#999" stroke-width="0.7"/><text x="1186" y="227">Fn1</text>
<rect x="1033" y="222" width="27" height="12" fill="#f6f6f6" stroke="#999" stroke-width="0.7"/><text x="1046.5" y="232">Mrc1</text>
<rect x="1124" y="222" width="29" height="12" fill="#f6f6f6" stroke="#999" stroke-width="0.7"/><text x="1138.5" y="232">C1qa</text>
<rect x="1127" y="260" width="27" height="12" fill="#f6f6f6" stroke="#999" stroke-width="0.7"/><text x="1140.5" y="270">Chil3</text>
<rect x="1163" y="269" width="27" height="12" fill="#f6f6f6" stroke="#999" stroke-width="0.7"/><text x="1176.5" y="279">Arg1</text>
<rect x="1025" y="277" width="31" height="12" fill="#f6f6f6" stroke="#999" stroke-width="0.7"/><text x="1040.5" y="287">Pparg</text>
<rect x="1112" y="277" width="21" height="12" fill="#f6f6f6" stroke="#999" stroke-width="0.7"/><text x="1122.5" y="287">Il1b</text>
</g>

<!-- ================= PANEL F2 ================= -->
<g stroke="#ececec" stroke-width="0.8">
<line x1="967" y1="592.3" x2="1272" y2="592.3"/><line x1="967" y1="498.8" x2="1272" y2="498.8"/><line x1="967" y1="405.3" x2="1272" y2="405.3"/>
<line x1="987" y1="368" x2="987" y2="652"/><line x1="1076" y1="368" x2="1076" y2="652"/><line x1="1166" y1="368" x2="1166" y2="652"/><line x1="1255" y1="368" x2="1255" y2="652"/>
</g>
<g stroke="#e2e2e2" stroke-width="1.3">
<line x1="967" y1="639" x2="1272" y2="639"/><line x1="967" y1="545.5" x2="1272" y2="545.5"/><line x1="967" y1="452" x2="1272" y2="452"/>
<line x1="1031" y1="368" x2="1031" y2="652"/><line x1="1121" y1="368" x2="1121" y2="652"/><line x1="1210" y1="368" x2="1210" y2="652"/>
</g>
<rect x="1083" y="368" width="96" height="33" fill="#fff"/>
<g stroke="#888" stroke-width="0.8" stroke-dasharray="2,2"><line x1="1098" y1="402" x2="1098" y2="652"/><line x1="1143" y1="402" x2="1143" y2="652"/><line x1="967" y1="636" x2="1272" y2="636"/></g>
<polygon points="1010,638 1015,626 1025,616 1040,608 1055,603 1070,600 1085,599 1098,598 1098,640 1010,640" fill="#d42a2a"/>
<polygon points="1143,574 1150,579 1155,594 1165,606 1180,616 1195,624 1205,631 1208,637 1143,640" fill="#d42a2a"/>
<polygon points="1098,604 1104,612 1108,625 1113,637 1098,640" fill="#4c56b3"/>
<polygon points="1133,638 1137,615 1141,600 1143,596 1143,640" fill="#4c56b3"/>
<ellipse cx="1121" cy="638" rx="18" ry="3" fill="#5a5a5a"/>
<circle cx="1104" cy="606" r="3.3" fill="#4c56b3"/>
<g fill="#d86a6a" fill-opacity="0.78">
<circle cx="1030" cy="419" r="3.4"/><circle cx="1047" cy="423" r="3.4"/><circle cx="1048" cy="473" r="3.4"/><circle cx="1063" cy="479" r="3.4"/><circle cx="1053" cy="543" r="3.4"/><circle cx="1058" cy="543" r="3.4"/><circle cx="1082" cy="546" r="3.4"/><circle cx="1080" cy="549" r="3.4"/><circle cx="1157" cy="553" r="3.4"/><circle cx="1222" cy="553" r="3.4"/><circle cx="1093" cy="557" r="3.4"/><circle cx="1149" cy="558" r="3.4"/><circle cx="1029" cy="576" r="3.4"/><circle cx="1095" cy="573" r="3.4"/><circle cx="1152" cy="568" r="3.4"/><circle cx="1153" cy="573" r="3.4"/><circle cx="1147" cy="577" r="3.4"/><circle cx="1048" cy="582" r="3.4"/><circle cx="1068" cy="581" r="3.4"/><circle cx="1087" cy="583" r="3.4"/><circle cx="1034" cy="589" r="3.4"/><circle cx="1053" cy="587" r="3.4"/><circle cx="1026" cy="593" r="3.4"/><circle cx="1025" cy="596" r="3.4"/><circle cx="1047" cy="600" r="3.4"/><circle cx="1065" cy="593" r="3.4"/><circle cx="1082" cy="590" r="3.4"/><circle cx="1158" cy="580" r="3.4"/><circle cx="1173" cy="587" r="3.4"/><circle cx="1163" cy="595" r="3.4"/><circle cx="1155" cy="590" r="3.4"/><circle cx="1173" cy="599" r="3.4"/><circle cx="1183" cy="617" r="3.4"/><circle cx="1213" cy="615" r="3.4"/><circle cx="1227" cy="617" r="3.4"/><circle cx="1222" cy="623" r="3.4"/><circle cx="1013" cy="620" r="3.4"/><circle cx="1017" cy="621" r="3.4"/><circle cx="1028" cy="621" r="3.4"/><circle cx="1038" cy="627" r="3.4"/><circle cx="1204" cy="622" r="3.4"/><circle cx="1197" cy="627" r="3.4"/><circle cx="1060" cy="605" r="3.4"/><circle cx="1075" cy="600" r="3.4"/><circle cx="1160" cy="605" r="3.4"/><circle cx="1170" cy="610" r="3.4"/><circle cx="1187" cy="390" r="3.4"/>
</g>
<g fill="#111"><circle cx="1187" cy="390" r="1.8"/><circle cx="1165" cy="543" r="1.8"/><circle cx="1170" cy="564" r="1.8"/><circle cx="1026" cy="569" r="1.8"/><circle cx="1073" cy="636" r="1.8"/><circle cx="1155" cy="637" r="1.8"/></g>
<line x1="967" y1="368" x2="967" y2="652" stroke="#555" stroke-width="1.3"/>
<line x1="967" y1="652" x2="1272" y2="652" stroke="#555" stroke-width="1.3"/>
<g font-size="17" text-anchor="end" fill="#111"><text x="962" y="458">100</text><text x="962" y="551">50</text><text x="962" y="645">0</text></g>
<g font-size="17" text-anchor="middle" fill="#111"><text x="1031" y="671">-4</text><text x="1121" y="671">0</text><text x="1210" y="671">4</text></g>
<text x="1130" y="688" font-size="15" text-anchor="middle">Log<tspan font-size="10" dy="4">2</tspan><tspan dy="-4"> fold change</tspan></text>
<text transform="translate(936,505) rotate(-90)" font-size="15.5" text-anchor="middle">-Log<tspan font-size="10.5" dy="4">10</tspan><tspan dy="-4" font-style="italic"> P</tspan></text>
<text x="1128" y="395" font-size="19" text-anchor="middle">Cluster 2</text>
<g font-size="10.5" text-anchor="middle" fill="#222">
<rect x="1186" y="377" width="22" height="12" fill="#f6f6f6" stroke="#999" stroke-width="0.7"/><text x="1197" y="387">Fn1</text>
<rect x="1144" y="531" width="27" height="12" fill="#f6f6f6" stroke="#999" stroke-width="0.7"/><text x="1157.5" y="541">Arg1</text>
<rect x="1163" y="551" width="31" height="12" fill="#f6f6f6" stroke="#999" stroke-width="0.7"/><text x="1178.5" y="561">Ecm1</text>
<rect x="1021" y="556" width="27" height="12" fill="#f6f6f6" stroke="#999" stroke-width="0.7"/><text x="1034.5" y="566">Mrc1</text>
<rect x="1104" y="621" width="29" height="12" fill="#f6f6f6" stroke="#999" stroke-width="0.7"/><text x="1118.5" y="631">C1qa</text>
<rect x="1137" y="617" width="28" height="12" fill="#f6f6f6" stroke="#999" stroke-width="0.7"/><text x="1151" y="627">Chil3</text>
<rect x="1050" y="638" width="32" height="12" fill="#f6f6f6" stroke="#999" stroke-width="0.7"/><text x="1066" y="648">Pparg</text>
<rect x="1130" y="638" width="21" height="12" fill="#f6f6f6" stroke="#999" stroke-width="0.7"/><text x="1140.5" y="648">Il1b</text>
<rect x="1155" y="639" width="28" height="12" fill="#f6f6f6" stroke="#999" stroke-width="0.7"/><text x="1169" y="649">Nos2</text>
</g>

<!-- ================= PANEL F3 ================= -->
<g stroke="#ececec" stroke-width="0.8">
<line x1="952" y1="966.2" x2="1263" y2="966.2"/><line x1="952" y1="874.6" x2="1263" y2="874.6"/><line x1="952" y1="783" x2="1263" y2="783"/>
<line x1="989" y1="738" x2="989" y2="1026"/><line x1="1078" y1="738" x2="1078" y2="1026"/><line x1="1166" y1="738" x2="1166" y2="1026"/><line x1="1255" y1="738" x2="1255" y2="1026"/>
</g>
<g stroke="#e2e2e2" stroke-width="1.3">
<line x1="952" y1="1012" x2="1263" y2="1012"/><line x1="952" y1="920.4" x2="1263" y2="920.4"/><line x1="952" y1="828.8" x2="1263" y2="828.8"/>
<line x1="1033" y1="738" x2="1033" y2="1026"/><line x1="1122" y1="738" x2="1122" y2="1026"/><line x1="1211" y1="738" x2="1211" y2="1026"/>
</g>
<g stroke="#888" stroke-width="0.8" stroke-dasharray="2,2"><line x1="1093" y1="731" x2="1093" y2="1026"/><line x1="1133" y1="731" x2="1133" y2="1026"/><line x1="952" y1="1007" x2="1263" y2="1007"/></g>
<polygon points="1045,1009 1055,998 1070,992 1085,988 1093,986 1093,1011 1045,1011" fill="#d42a2a"/>
<polygon points="1133,985 1145,989 1160,991 1178,994 1186,1000 1181,1008 1133,1011" fill="#d42a2a"/>
<polygon points="1093,989 1100,992 1107,1000 1112,1010 1093,1011" fill="#4c56b3"/>
<polygon points="1118,1011 1124,998 1128,990 1133,982 1133,1011" fill="#4c56b3"/>
<ellipse cx="1089" cy="1008" rx="6" ry="3" fill="#3da144"/>
<ellipse cx="1114" cy="1010" rx="18" ry="4" fill="#5a5a5a"/>
<g fill="#4c56b3"><circle cx="1127" cy="971" r="3.3"/><circle cx="1131" cy="967" r="3.3"/><circle cx="1130" cy="976" r="3.3"/><circle cx="1104" cy="994" r="3.3"/><circle cx="1100" cy="990" r="3.3"/></g>
<g fill="#d86a6a" fill-opacity="0.78">
<circle cx="1074" cy="774" r="3.4"/><circle cx="996" cy="892" r="3.4"/><circle cx="1175" cy="912" r="3.4"/><circle cx="1147" cy="923" r="3.4"/><circle cx="1078" cy="929" r="3.4"/><circle cx="1069" cy="938" r="3.4"/><circle cx="1062" cy="944" r="3.4"/><circle cx="1063" cy="948" r="3.4"/><circle cx="1022" cy="947" r="3.4"/><circle cx="1196" cy="945" r="3.4"/><circle cx="1085" cy="953" r="3.4"/><circle cx="1078" cy="955" r="3.4"/><circle cx="1073" cy="958" r="3.4"/><circle cx="1083" cy="961" r="3.4"/><circle cx="1167" cy="963" r="3.4"/><circle cx="1157" cy="966" r="3.4"/><circle cx="1217" cy="973" r="3.4"/><circle cx="1043" cy="967" r="3.4"/><circle cx="1052" cy="967" r="3.4"/><circle cx="1058" cy="967" r="3.4"/><circle cx="1053" cy="971" r="3.4"/><circle cx="1052" cy="976" r="3.4"/><circle cx="1033" cy="982" r="3.4"/><circle cx="1033" cy="985" r="3.4"/><circle cx="1193" cy="983" r="3.4"/><circle cx="1057" cy="978" r="3.4"/><circle cx="1073" cy="976" r="3.4"/><circle cx="1078" cy="978" r="3.4"/><circle cx="1176" cy="988" r="3.4"/><circle cx="1152" cy="989" r="3.4"/><circle cx="1163" cy="990" r="3.4"/><circle cx="1044" cy="992" r="3.4"/><circle cx="1048" cy="987" r="3.4"/><circle cx="1142" cy="983" r="3.4"/><circle cx="1065" cy="985" r="3.4"/><circle cx="1140" cy="995" r="3.4"/><circle cx="1185" cy="917" r="3.4"/>
</g>
<g fill="#111"><circle cx="1185" cy="917" r="1.8"/><circle cx="1169" cy="960" r="1.8"/><circle cx="1075" cy="998" r="1.8"/></g>
<line x1="952" y1="738" x2="952" y2="1026" stroke="#555" stroke-width="1.3"/>
<line x1="952" y1="1026" x2="1263" y2="1026" stroke="#555" stroke-width="1.3"/>
<g font-size="17" text-anchor="end" fill="#111"><text x="948" y="835">40</text><text x="948" y="927">20</text><text x="948" y="1018">0</text></g>
<g font-size="17" text-anchor="middle" fill="#111"><text x="1032" y="1043">-4</text><text x="1122" y="1043">0</text><text x="1210" y="1043">4</text></g>
<text x="1128" y="1058" font-size="15" text-anchor="middle">Log<tspan font-size="10" dy="4">2</tspan><tspan dy="-4"> fold change</tspan></text>
<text transform="translate(935,918) rotate(-90)" font-size="15.5" text-anchor="middle">-Log<tspan font-size="10.5" dy="4">10</tspan><tspan dy="-4" font-style="italic"> P</tspan></text>
<g font-size="10.5" text-anchor="middle" fill="#222">
<rect x="1166" y="920" width="23" height="12" fill="#f6f6f6" stroke="#999" stroke-width="0.7"/><text x="1177.5" y="930">Fn1</text>
<rect x="1165" y="948" width="27" height="12" fill="#f6f6f6" stroke="#999" stroke-width="0.7"/><text x="1178.5" y="958">Arg1</text>
<rect x="1133" y="968" width="31" height="12" fill="#f6f6f6" stroke="#999" stroke-width="0.7"/><text x="1148.5" y="978">Ecm1</text>
<rect x="1108" y="987" width="29" height="12" fill="#f6f6f6" stroke="#999" stroke-width="0.7"/><text x="1122.5" y="997">C1qa</text>
<rect x="1054" y="988" width="28" height="12" fill="#f6f6f6" stroke="#999" stroke-width="0.7"/><text x="1068" y="998">Mrc1</text>
<rect x="1131" y="1008" width="28" height="12" fill="#f6f6f6" stroke="#999" stroke-width="0.7"/><text x="1145" y="1018">Chil3</text>
<rect x="1085" y="1013" width="21" height="12" fill="#f6f6f6" stroke="#999" stroke-width="0.7"/><text x="1095.5" y="1023">Il1b</text>
</g>
</svg>
</body></html>
